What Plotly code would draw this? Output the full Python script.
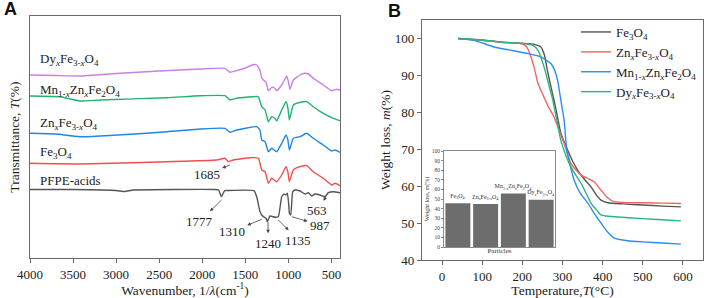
import plotly.graph_objects as go

W, H = 706, 298
SERIF = "Liberation Serif"

# ---------------- Panel A: FTIR (offset transmittance, arbitrary units) ----------------
dy_wn = [4000, 3700, 3420, 3000, 2500, 2026, 1735, 1677, 1600, 1500, 1410, 1367, 1330, 1309, 1290, 1260, 1232, 1193, 1160, 1135, 1077, 1019, 1000, 980, 942, 864, 806, 767, 710, 594, 497, 439, 400]
dy_t = [183, 182.5, 182, 184.5, 187, 189, 189.7, 185.7, 187.3, 190, 193.3, 193, 188, 180, 178, 176, 167.3, 170.7, 170, 167.3, 173, 182, 176.3, 168.7, 178, 183, 184.7, 184, 179.7, 173, 167.3, 168.7, 168]

mn_wn = [4000, 3652, 3420, 3187, 2409, 2026, 1735, 1677, 1600, 1410, 1348, 1309, 1270, 1232, 1193, 1160, 1135, 1077, 1027, 1005, 988, 942, 864, 786, 710, 594, 477, 400]
mn_t = [162, 161.3, 157, 158, 160.3, 162.3, 162.3, 158, 159.7, 161.3, 161.3, 151.3, 148, 136.3, 141.3, 140, 137, 148, 156.3, 150, 138, 153, 155.7, 156.3, 151.3, 144.7, 139.7, 137.3]

zn_wn = [4000, 3700, 3420, 2409, 2026, 1735, 1677, 1600, 1367, 1330, 1309, 1270, 1232, 1193, 1135, 1077, 1027, 1005, 988, 942, 864, 786, 710, 594, 497, 458, 400]
zn_t = [124.7, 124, 121.3, 126.3, 129, 129.7, 125.7, 128, 131.3, 128, 118, 116.3, 106.3, 109.7, 106.3, 114.7, 123, 118, 108, 119.7, 121.3, 124.7, 119.7, 113, 107, 108, 105.7]

fe_wn = [4000, 3420, 2413, 1832, 1735, 1697, 1640, 1445, 1348, 1309, 1270, 1232, 1193, 1135, 1077, 1027, 1005, 988, 942, 864, 786, 710, 594, 497, 458, 400]
fe_t = [94.7, 94, 96.3, 98, 99.7, 96.3, 98, 100.3, 99.7, 88, 86.3, 74.7, 79.7, 76.3, 83, 91.3, 86, 76.3, 88, 91.3, 92.3, 86.3, 79.7, 73, 74.7, 72.3]

pf_wn = [4000, 3500, 3000, 2900, 2800, 1850, 1810, 1777, 1740, 1700, 1400, 1367, 1329, 1298, 1259, 1244, 1213, 1154, 1116, 1077, 1050, 1027, 1011, 995, 988, 972, 949, 922, 864, 806, 767, 729, 690, 632, 574, 535, 477, 400]
pf_t = [68.5, 68.5, 67.5, 66.5, 68, 68.5, 68, 61.3, 67.3, 67.5, 67.3, 61.3, 46.3, 42, 39.7, 36.3, 42, 40.7, 41.3, 61.3, 64, 63, 64.7, 53, 44.7, 43, 66.3, 68, 67, 64, 65.3, 62, 64, 63, 61.3, 65.3, 66.3, 65.3]

ftir_names = ["Dy<sub><i>x</i></sub>Fe<sub>3-<i>x</i></sub>O<sub>4</sub>",
              "Mn<sub>1-<i>x</i></sub>Zn<sub><i>x</i></sub>Fe<sub>2</sub>O<sub>4</sub>",
              "Zn<sub><i>x</i></sub>Fe<sub>3-<i>x</i></sub>O<sub>4</sub>",
              "Fe<sub>3</sub>O<sub>4</sub>",
              "PFPE-acids"]
ftir_label_y = [199, 168, 135, 106, 78]
ftir_colors = ["#c880e2", "#1fb26e", "#1f86e6", "#f24d4d", "#555555"]

# peak annotations: (label, tip wavenumber, tip value, text wavenumber, text value)
peak_labels = ["1685", "1777", "1310", "1240", "1135", "987", "563"]
peak_tip_wn = [1677, 1775, 1309, 1236, 1116, 961, 562]
peak_tip_t = [93, 58, 38.7, 36, 38, 41.3, 61.3]
peak_txt_wn = [1948, 2026, 1657, 1233, 884, 632, 663]
peak_txt_t = [84, 37, 26.3, 14.7, 18, 33, 47.3]

ftir_ticks = [4000, 3500, 3000, 2500, 2000, 1500, 1000, 500]

# ---------------- Panel B: TGA ----------------
tga_names = ["Fe<sub>3</sub>O<sub>4</sub>",
             "Zn<sub><i>x</i></sub>Fe<sub>3-<i>x</i></sub>O<sub>4</sub>",
             "Mn<sub>1-<i>x</i></sub>Zn<sub><i>x</i></sub>Fe<sub>2</sub>O<sub>4</sub>",
             "Dy<sub><i>x</i></sub>Fe<sub>3-<i>x</i></sub>O<sub>4</sub>"]
tga_colors = ["#555555", "#f26461", "#2a8ef0", "#2db57d"]

fe_T = [40, 100, 150, 200, 230, 246, 255, 262, 270, 279, 288, 296, 305, 313, 325, 338, 355, 371, 385, 396, 413, 450, 500, 550, 595]
fe_m = [100, 99.6, 99.0, 98.7, 98.4, 97.7, 95.5, 91.5, 87.5, 83.2, 78.5, 74.3, 71.8, 69.7, 66.8, 64.3, 61.8, 59.8, 57.5, 56.2, 55.5, 55.2, 54.9, 54.6, 54.4]

zn_T = [40, 100, 150, 200, 210, 217, 229, 239, 254, 265, 279, 292, 304, 321, 346, 365, 379, 396, 413, 429, 450, 500, 550, 595]
zn_m = [100, 99.5, 98.9, 98.5, 97.8, 96.3, 92.3, 87.8, 84.1, 81.5, 78.7, 75, 71.6, 66.1, 63, 62, 61.2, 58.9, 56.8, 55.8, 55.6, 55.5, 55.4, 55.3]

mn_T = [40, 80, 130, 172, 214, 246, 271, 280, 288, 296, 304, 311, 329, 345, 363, 380, 396, 413, 429, 463, 500, 550, 595]
mn_m = [100, 99.5, 97.7, 96.8, 95.9, 95, 93.2, 91.5, 88.6, 83.2, 77.8, 69.7, 61.6, 58, 55.4, 52.5, 50, 47.5, 45.9, 45.2, 44.9, 44.6, 44.3]

dy_T = [40, 100, 150, 200, 225, 239, 254, 265, 276, 286, 296, 306, 317, 330, 346, 360, 371, 385, 396, 410, 429, 500, 550, 595]
dy_m = [100, 99.6, 99, 98.6, 98.2, 96.8, 92.3, 87.8, 83.2, 77.8, 72.4, 69, 66.1, 63.5, 60.8, 57.8, 55.4, 53.5, 52.2, 51.9, 51.7, 51.2, 50.9, 50.6]

# inset bar chart: weight loss (%)
bar_cats = ["Fe<sub>3</sub>O<sub>4</sub>",
            "Zn<sub><i>x</i></sub>Fe<sub>3-<i>x</i></sub>O<sub>4</sub>",
            "Mn<sub>1-<i>x</i></sub>Zn<sub><i>x</i></sub>Fe<sub>2</sub>O<sub>4</sub>",
            "Dy<sub><i>x</i></sub>Fe<sub>3-<i>x</i></sub>O<sub>4</sub>"]
bar_loss = [45.5, 44.7, 55.7, 49.3]

# ---------------- figure ----------------
fig = go.Figure()

ftir_wn = [dy_wn, mn_wn, zn_wn, fe_wn, pf_wn]
ftir_t = [dy_t, mn_t, zn_t, fe_t, pf_t]
for wn, t, c, nm in zip(ftir_wn, ftir_t, ftir_colors, ftir_names):
    fig.add_trace(go.Scatter(x=wn, y=t, mode="lines", line=dict(color=c, width=1.4, shape="spline", smoothing=0.4),
                             name=nm, showlegend=False, xaxis="x", yaxis="y"))

for T, m, c, nm in zip([fe_T, zn_T, mn_T, dy_T], [fe_m, zn_m, mn_m, dy_m], tga_colors, tga_names):
    fig.add_trace(go.Scatter(x=T, y=m, mode="lines", line=dict(color=c, width=1.4, shape="spline", smoothing=0.6),
                             name=nm, showlegend=True, xaxis="x2", yaxis="y2"))

fig.add_trace(go.Bar(x=bar_cats, y=bar_loss, marker=dict(color="#6d6d6d", line=dict(width=0)),
                     text=bar_cats, textposition="outside", cliponaxis=False, constraintext="none",
                     textfont=dict(family=SERIF, size=6, color="#333"),
                     showlegend=False, xaxis="x3", yaxis="y3"))

def px2x(p):
    return p / W

def px2y(p):
    return 1 - p / H

axis_col = "#6a6a6a"
tickfont = dict(family=SERIF, size=13, color="#222")
titlefont = dict(family=SERIF, size=13.5, color="#222")

fig.update_layout(
    width=W, height=H, margin=dict(l=0, r=0, t=0, b=0, autoexpand=False),
    paper_bgcolor="white", plot_bgcolor="white",
    showlegend=True,
    bargap=0.1,
    xaxis=dict(domain=[px2x(30), px2x(340)], range=[4000, 400], tickvals=ftir_ticks, automargin=False,
               showline=True, mirror=True, linecolor=axis_col, linewidth=1.2,
               ticks="outside", ticklen=4, tickcolor=axis_col, showgrid=False, zeroline=False,
               tickfont=tickfont,
               title=dict(text="Wavenumber, 1/<i>λ</i>(cm<sup>-1</sup>)", font=titlefont, standoff=2)),
    yaxis=dict(domain=[px2y(258), px2y(16)], range=[0, 242], showticklabels=False, automargin=False,
               showline=True, mirror=True, linecolor=axis_col, linewidth=1.2,
               ticks="", showgrid=False, zeroline=False,
               title=dict(text="Transmittance, <i>T</i>(%)", font=titlefont, standoff=6)),
    xaxis2=dict(domain=[px2x(422), px2x(703)], range=[-50, 650], tickvals=[0, 100, 200, 300, 400, 500, 600],
                showline=True, mirror=True, linecolor=axis_col, linewidth=1.2, automargin=False,
                ticks="outside", ticklen=4, tickcolor=axis_col, showgrid=False, zeroline=False,
                tickfont=tickfont, anchor="y2",
                title=dict(text="Temperature,<i>T</i>(°C)", font=titlefont, standoff=2)),
    yaxis2=dict(domain=[px2y(260), px2y(20)], range=[40, 105], tickvals=[40, 50, 60, 70, 80, 90, 100],
                showline=True, mirror=True, linecolor=axis_col, linewidth=1.2, automargin=False,
                ticks="outside", ticklen=4, tickcolor=axis_col, showgrid=False, zeroline=False,
                tickfont=tickfont, anchor="x2",
                title=dict(text="Weight loss, <i>m</i>(%)", font=titlefont, standoff=1)),
    xaxis3=dict(domain=[px2x(444), px2x(555)], showticklabels=False, ticks="", automargin=False,
                showline=True, mirror=True, linecolor="#8a8a8a", linewidth=1, anchor="y3",
                showgrid=False, zeroline=False,
                title=dict(text="Particles", font=dict(family=SERIF, size=7, color="#333"), standoff=1)),
    yaxis3=dict(domain=[px2y(247), px2y(151)], range=[0, 100], dtick=10, automargin=False,
                showline=True, mirror=True, linecolor="#8a8a8a", linewidth=1, anchor="x3",
                ticks="outside", ticklen=2, tickcolor="#8a8a8a", showgrid=False, zeroline=False,
                tickfont=dict(family=SERIF, size=5.5, color="#444"),
                title=dict(text="Weight loss, <i>m</i>(%)", font=dict(family=SERIF, size=6, color="#333"), standoff=1)),
    legend=dict(x=px2x(576), y=px2y(17), xanchor="left", yanchor="top",
                bgcolor="rgba(0,0,0,0)", font=dict(family=SERIF, size=13, color="#222"),
                tracegroupgap=0, itemwidth=30),
)

annotations = []
# panel letters
annotations.append(dict(text="<b>A</b>", x=px2x(2), y=px2y(9), xref="paper", yref="paper",
                        xanchor="left", yanchor="middle", showarrow=False,
                        font=dict(family="Liberation Sans", size=18, color="#111")))
annotations.append(dict(text="<b>B</b>", x=px2x(386), y=px2y(11), xref="paper", yref="paper",
                        xanchor="left", yanchor="middle", showarrow=False,
                        font=dict(family="Liberation Sans", size=18, color="#111")))
# FTIR series labels
for nm, yv in zip(ftir_names, ftir_label_y):
    annotations.append(dict(text=nm, x=3905, y=yv, xref="x", yref="y", xanchor="left",
                            yanchor="middle", showarrow=False,
                            font=dict(family=SERIF, size=13, color="#222")))
# peak annotations
for lab, tx, ty, ax, ay in zip(peak_labels, peak_tip_wn, peak_tip_t, peak_txt_wn, peak_txt_t):
    annotations.append(dict(text=lab, x=tx, y=ty, ax=ax, ay=ay, xref="x", yref="y",
                            axref="x", ayref="y", showarrow=True, arrowside="start",
                            arrowhead=2, startarrowhead=2, startarrowsize=0.9,
                            arrowwidth=0.8, arrowcolor="#444", startstandoff=1,
                            font=dict(family=SERIF, size=13, color="#222")))
fig.update_layout(annotations=annotations)

fig.write_html("out.html", config={"displayModeBar": False},
               post_script="document.body.style.margin='0px';document.body.style.overflow='hidden';")
